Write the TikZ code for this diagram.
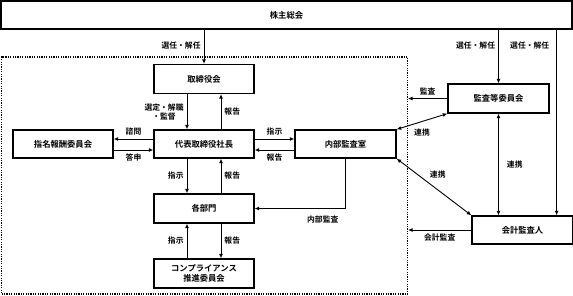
\documentclass[tikz,border=0pt]{standalone}
\usepackage{fontspec}
\setmainfont{Noto Sans CJK JP}[BoldFont={Noto Sans CJK JP Bold}]
\usetikzlibrary{arrows.meta, positioning, calc}

\tikzset{
  orgbox/.style={draw, line width=1.3pt, minimum width=100pt, minimum height=28pt,
                 inner sep=1pt, align=center, font=\bfseries\fontsize{8.3}{9.8}\selectfont},
  flow/.style={->, line width=0.9pt},
  both/.style={<->, line width=0.9pt},
  lbl/.style={font=\bfseries\fontsize{7.8}{9}\selectfont, inner sep=3pt, align=center},
}

\begin{document}
\begin{tikzpicture}[x=1pt, y=-1pt, >={Latex[length=4.5pt,width=4pt]}]
  \useasboundingbox (0,0) rectangle (573,296);

  % company frame
  \node[draw, line width=1.2pt, dash pattern=on 1.2pt off 1.2pt,
        minimum width=406pt, minimum height=237pt, inner sep=0pt]
        (frame) at (204.5,175.5) {};

  \node[orgbox, minimum width=571pt] (gm) at (286.5,15) {株主総会};

  \node[orgbox, minimum height=29pt] (board) at (204,79) {取締役会};
  \node[orgbox] (ceo) at (204,144) {代表取締役社長};
  \node[orgbox] (nom) at (63,144) {指名報酬委員会};
  \node[orgbox, minimum width=101pt] (ia) at (345.5,144) {内部監査室};
  \node[orgbox, minimum height=29pt] (dept) at (204,208.5) {各部門};
  \node[orgbox, minimum height=29pt] (comp) at (204,273.5) {コンプライアンス\\推進委員会};

  \node[orgbox, minimum width=101pt, minimum height=29pt] (ac) at (498.5,98.5) {監査等委員会};
  \node[orgbox, minimum width=101pt] (ext) at (522.5,230) {会計監査人};

  \coordinate (extin) at ($(ext.north east)+(-17,0)$);

  % general meeting
  \draw[flow] (board.north |- gm.south) -- node[lbl, pos=0.46, left] {選任・解任} (board.north);
  \draw[flow] (ac.north |- gm.south) -- node[lbl, pos=0.29, left] {選任・解任} (ac.north);
  \draw[flow] (extin |- gm.south) -- node[lbl, pos=0.086, left=4pt] {選任・解任} (extin);

  % board and president
  \draw[flow] ([xshift=-17pt]board.south) -- node[lbl, left] {選定・解職\\・監督} ([xshift=-17pt]ceo.north);
  \draw[flow] ([xshift=17pt]ceo.north) -- node[lbl, right] {報告} ([xshift=17pt]board.south);

  \draw[flow] ([yshift=5pt]ceo.west) -- node[lbl, above] {諮問} ([yshift=5pt]nom.east);
  \draw[flow] ([yshift=-6pt]nom.east) -- node[lbl, below] {答申} ([yshift=-6pt]ceo.west);

  \draw[flow] ([yshift=5pt]ceo.east) -- node[lbl, above] {指示} ([yshift=5pt]ia.west);
  \draw[flow] ([yshift=-6pt]ia.west) -- node[lbl, below] {報告} ([yshift=-6pt]ceo.east);

  \draw[flow] ([xshift=-17pt]ceo.south) -- node[lbl, left] {指示} ([xshift=-17pt]dept.north);
  \draw[flow] ([xshift=17pt]dept.north) -- node[lbl, right] {報告} ([xshift=17pt]ceo.south);

  \draw[flow] ([xshift=-17pt]comp.north) -- node[lbl, left] {指示} ([xshift=-17pt]dept.south);
  \draw[flow] ([xshift=17pt]dept.south) -- node[lbl, right] {報告} ([xshift=17pt]comp.north);

  % audit
  \draw[flow] (ia.south) -- (ia.south |- dept.east)
    -- node[lbl, pos=0.25, below=4pt] {内部監査} (dept.east);
  \draw[flow] (ac.west) -- node[lbl, above] {監査} (ac.west -| frame.east);
  \draw[flow] (ext.west) -- node[lbl, below] {会計監査} (ext.west -| frame.east);

  \draw[both] (ac.south west) -- node[lbl, below=4pt] {連携} (ia.north east);
  \draw[both] (ia.south east) -- node[lbl, pos=0.4, above right] {連携} (ext.north west);
  \draw[both] (ac.south) -- node[lbl, right=5pt] {連携} (ac.south |- ext.north);
\end{tikzpicture}
\end{document}
